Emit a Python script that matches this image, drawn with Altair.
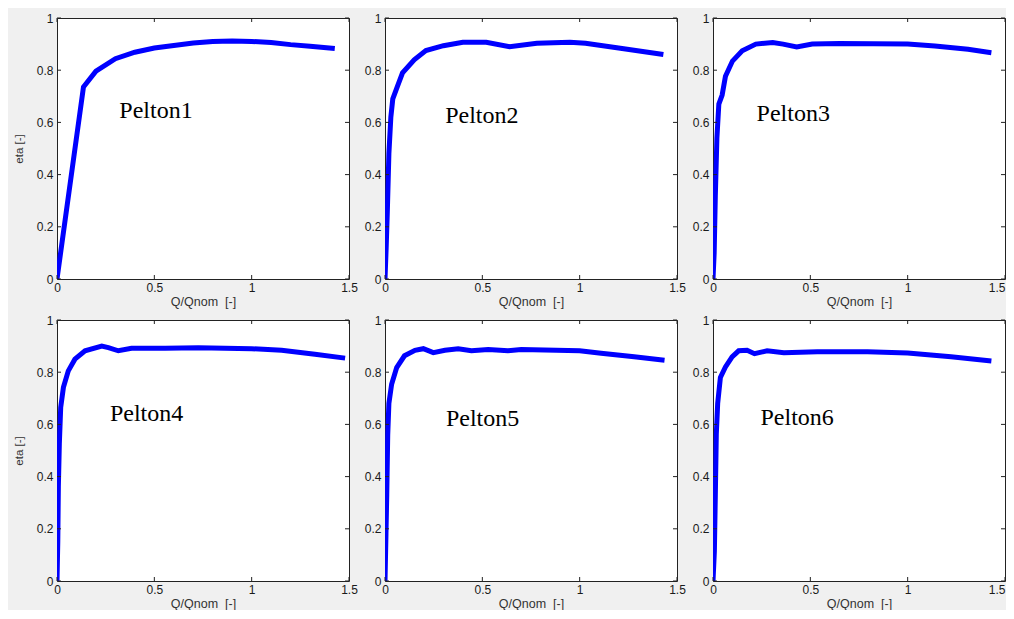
import altair as alt
import pandas as pd

# ---- data ----
q1 = [0.0, 0.136, 0.2, 0.3, 0.4, 0.5, 0.6, 0.7, 0.8, 0.9, 1.0, 1.1, 1.2, 1.3, 1.427]
eta1 = [0.0, 0.736, 0.796, 0.844, 0.869, 0.885, 0.895, 0.904, 0.91, 0.912, 0.91, 0.906, 0.898, 0.892, 0.883]

q2 = [0.0, 0.006, 0.012, 0.02, 0.03, 0.04, 0.06, 0.09, 0.15, 0.21, 0.3, 0.4, 0.52, 0.64, 0.78, 0.95, 1.03, 1.2, 1.43]
eta2 = [0.0, 0.12, 0.26, 0.48, 0.62, 0.69, 0.73, 0.79, 0.84, 0.875, 0.894, 0.907, 0.907, 0.89, 0.903, 0.907, 0.903, 0.885, 0.86]

q3 = [0.0, 0.006, 0.012, 0.02, 0.03, 0.047, 0.064, 0.1, 0.15, 0.22, 0.307, 0.36, 0.43, 0.51, 0.65, 1.0, 1.14, 1.31, 1.43]
eta3 = [0.0, 0.1, 0.32, 0.54, 0.67, 0.705, 0.777, 0.835, 0.874, 0.9, 0.906, 0.9, 0.889, 0.9, 0.902, 0.9, 0.893, 0.88, 0.867]

q4 = [0.0, 0.004, 0.007, 0.012, 0.019, 0.033, 0.058, 0.092, 0.144, 0.23, 0.264, 0.315, 0.383, 0.555, 0.726, 1.0, 1.154, 1.325, 1.48]
eta4 = [0.0, 0.15, 0.36, 0.525, 0.665, 0.742, 0.805, 0.85, 0.882, 0.9, 0.894, 0.882, 0.892, 0.892, 0.894, 0.89, 0.884, 0.869, 0.854]

q5 = [0.0, 0.005, 0.009, 0.014, 0.02, 0.034, 0.06, 0.1, 0.154, 0.197, 0.248, 0.308, 0.376, 0.444, 0.53, 0.632, 0.7, 1.0, 1.11, 1.28, 1.436]
eta5 = [0.0, 0.18, 0.33, 0.56, 0.68, 0.754, 0.818, 0.863, 0.884, 0.89, 0.875, 0.884, 0.89, 0.882, 0.887, 0.882, 0.887, 0.882, 0.873, 0.859, 0.846]

q6 = [0.0, 0.007, 0.012, 0.017, 0.024, 0.038, 0.064, 0.098, 0.132, 0.175, 0.213, 0.278, 0.364, 0.536, 0.794, 1.0, 1.223, 1.43]
eta6 = [0.0, 0.113, 0.33, 0.563, 0.68, 0.78, 0.82, 0.859, 0.882, 0.884, 0.871, 0.882, 0.875, 0.878, 0.878, 0.874, 0.859, 0.843]

names = ["Pelton1", "Pelton2", "Pelton3", "Pelton4", "Pelton5", "Pelton6"]
label_q = [0.32, 0.309, 0.224, 0.272, 0.313, 0.244]
label_eta = [0.615, 0.596, 0.605, 0.614, 0.595, 0.599]

x_ticks = [0, 0.5, 1, 1.5]
y_ticks = [0, 0.2, 0.4, 0.6, 0.8, 1]

Q = [q1, q2, q3, q4, q5, q6]
ETA = [eta1, eta2, eta3, eta4, eta5, eta6]

W, H = 292, 261
TL = 4  # inward tick length

xs = alt.Scale(domain=[0, 1.5], nice=False, zero=False)
ys = alt.Scale(domain=[0, 1], nice=False, zero=False)


def panel(i, show_ytitle, last_col):
    xkw = dict(values=x_ticks, format="~g", title="Q/Qnom\u00a0 [-]")
    if last_col:
        xkw["labelAlign"] = {"condition": {"test": "datum.value >= 1.5", "value": "right"}, "value": "center"}
    xaxis = alt.Axis(**xkw)
    yaxis = alt.Axis(values=y_ticks, format="~g", title="eta [-]" if show_ytitle else "")
    X = alt.X("q:Q", scale=xs, axis=xaxis)
    Y = alt.Y("eta:Q", scale=ys, axis=yaxis)

    df = pd.DataFrame({"q": Q[i], "eta": ETA[i]})
    line = alt.Chart(df).mark_line(color="#0000ff", strokeWidth=5, clip=True).encode(x=X, y=Y)

    xt = pd.DataFrame({"q": x_ticks})
    yt = pd.DataFrame({"eta": y_ticks})
    tick_style = dict(color="#222222", strokeWidth=1)
    xb = alt.Chart(xt).mark_rule(**tick_style).encode(x=X, y=alt.value(H), y2=alt.value(H - TL))
    xtop = alt.Chart(xt).mark_rule(**tick_style).encode(x=X, y=alt.value(0), y2=alt.value(TL))
    yl = alt.Chart(yt).mark_rule(**tick_style).encode(y=Y, x=alt.value(0), x2=alt.value(TL))
    yr = alt.Chart(yt).mark_rule(**tick_style).encode(y=Y, x=alt.value(W - TL), x2=alt.value(W))

    ldf = pd.DataFrame({"q": [label_q[i]], "eta": [label_eta[i]], "t": [names[i]]})
    lab = alt.Chart(ldf).mark_text(
        font="Liberation Serif", fontSize=24, align="left", baseline="alphabetic", color="black"
    ).encode(x=X, y=Y, text="t:N")
    return alt.layer(line, xb, xtop, yl, yr, lab).properties(width=W, height=H)


panels = [panel(i, i in (0, 3), i in (2, 5)) for i in range(6)]

chart = alt.concat(*panels, columns=3, spacing=alt.RowColnumber(row=41, column=36)).properties(
    bounds="flush",
    background="#f0f0f0",
    padding={"left": 4, "top": 3, "right": 0, "bottom": 0},
).configure_view(
    fill="white", stroke="#222222", strokeWidth=1
).configure_axis(
    ticks=False, domain=False, grid=False,
    labelFont="Liberation Sans", labelFontSize=12, labelColor="#1a1a1a",
    labelOverlap=False, labelFlush=False,
    titleFont="Liberation Sans", titleFontWeight="normal", titleColor="#333333",
).configure_axisX(
    labelPadding=3, titleFontSize=12.5, titlePadding=2
).configure_axisY(
    labelPadding=4, titleFontSize=11.5, titlePadding=12
)

chart.save("out.html", embed_options={"renderer": "svg", "actions": False})
